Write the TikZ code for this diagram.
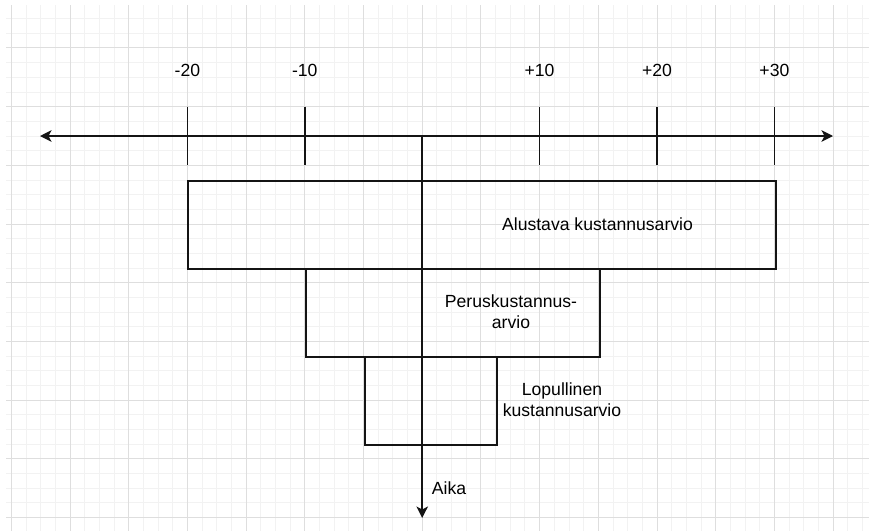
\documentclass[tikz,border=0pt]{standalone}
\usepackage{fontspec}
\setmainfont{Liberation Sans}
\usetikzlibrary{arrows.meta}

\tikzset{
  minorline/.style={draw={rgb,255:red,242;green,242;blue,242}, line width=0.9},
  majorline/.style={draw={rgb,255:red,222;green,222;blue,222}, line width=1},
  axisline/.style={line width=1.6, draw={rgb,255:red,20;green,20;blue,20}, -{Stealth[length=11.5pt,width=11.5pt,inset=3pt]}},
  tickline/.style={line width=1.6, draw={rgb,255:red,20;green,20;blue,20}},
  estbox/.style={draw={rgb,255:red,20;green,20;blue,20}, line width=1.6, anchor=north west, inner sep=0pt},
  lbl/.style={font=\fontsize{17.6}{21}\selectfont, inner sep=0.75pt, align=center}
}

\begin{document}
\begin{tikzpicture}[x=1pt,y=1pt,yscale=-1,xscale=1]
        \useasboundingbox (0,0) rectangle (869,531);
        % background grid
        \begin{scope}
        \clip (6,5) rectangle (869,531);
        \foreach \i in {0,...,59} {
          \draw[minorline] ({11.3+14.675*\i},0) -- ({11.3+14.675*\i},531);
        }
        \foreach \i in {0,...,36} {
          \draw[minorline] (0,{3.9+14.675*\i}) -- (869,{3.9+14.675*\i});
        }
        \foreach \i in {0,...,14} {
          \draw[majorline] ({11.3+58.7*\i},0) -- ({11.3+58.7*\i},531);
        }
        \foreach \i in {0,...,9} {
          \draw[majorline] (0,{-10.75+58.7*\i}) -- (869,{-10.75+58.7*\i});
        }
        \end{scope}
        % boxes
        \node[estbox, minimum width=588pt, minimum height=88pt] (alustava) at (187,180) {};
        \node[estbox, minimum width=294pt, minimum height=88pt] (perus) at (305,268) {};
        \node[estbox, minimum width=132pt, minimum height=88pt] (lopullinen) at (364,356) {};
        % axes
        \coordinate (orig) at (422.2,136);
        \coordinate (xleft) at (40,136);
        \coordinate (xright) at (833,136);
        \coordinate (tend) at (422.2,518);
        \draw[axisline] (orig) -- (xleft);
        \draw[axisline] (orig) -- (xright);
        \draw[axisline] (orig) -- (tend);
        % ticks and labels
        \foreach \x/\t in {187.4/-20, 304.8/-10, 539.6/+10, 657/+20, 774.4/+30} {
          \coordinate (tt\t) at (\x,106.6);
          \coordinate (tb\t) at (\x,165.4);
          \draw[tickline] (tt\t) -- (tb\t);
          \node[lbl] (lab\t) at (\x,70) {\t};
        }
        % texts
        \node[lbl] (alustavatxt) at (597.5,224) {Alustava kustannusarvio};
        \node[lbl] (perustxt) at (511,312) {Peruskustannus-\\arvio};
        \node[lbl] (lopullinentxt) at (562,400) {Lopullinen\\kustannusarvio};
        \node[lbl, anchor=west] (aika) at (431,488) {Aika};
\end{tikzpicture}
\end{document}
